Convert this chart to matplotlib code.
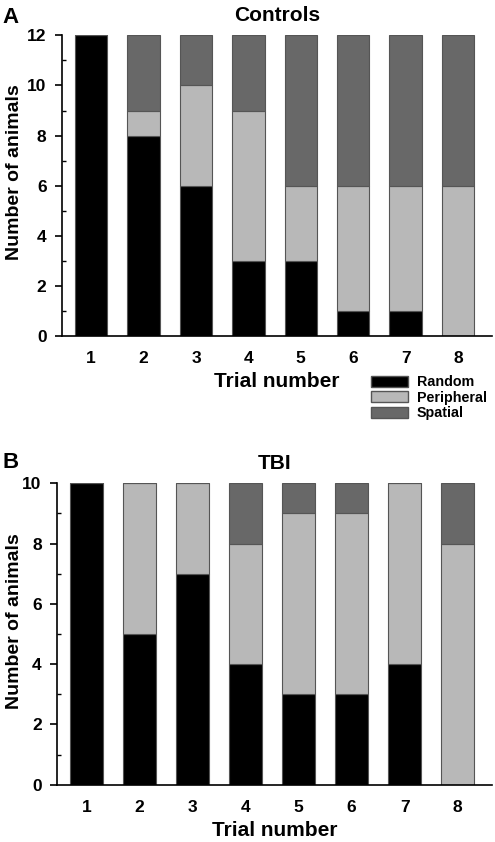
import numpy as np
import matplotlib
matplotlib.use('Agg')
import matplotlib.pyplot as plt
from matplotlib.patches import Patch

plt.rcParams['font.family'] = ['Liberation Sans', 'DejaVu Sans']
plt.rcParams['font.weight'] = 'bold'

trials = [1, 2, 3, 4, 5, 6, 7, 8]
strategies = ['Random', 'Peripheral', 'Spatial']
colors = ['#000000', '#b8b8b8', '#686868']

ctrl_random = [12, 8, 6, 3, 3, 1, 1, 0]
ctrl_peripheral = [0, 1, 4, 6, 3, 5, 5, 6]
ctrl_spatial = [0, 3, 2, 3, 6, 6, 6, 6]

tbi_random = [10, 5, 7, 4, 3, 3, 4, 0]
tbi_peripheral = [0, 5, 3, 4, 6, 6, 6, 8]
tbi_spatial = [0, 0, 0, 2, 1, 1, 0, 2]


def stacked(ax, series, ymax, title):
    bottom = np.zeros(len(trials))
    for vals, c in zip(series, colors):
        ax.bar(trials, vals, width=0.62, bottom=bottom, color=c,
               edgecolor='#555555', linewidth=0.8, zorder=2)
        bottom += np.array(vals)
    ax.set_ylim(0, ymax)
    ax.set_xlim(0.44, 8.65)
    ax.set_yticks(range(0, ymax + 1, 2))
    ax.set_yticks(range(1, ymax, 2), minor=True)
    ax.set_xticks(trials)
    ax.spines['top'].set_visible(False)
    ax.spines['right'].set_visible(False)
    ax.spines['left'].set_linewidth(1.2)
    ax.spines['bottom'].set_linewidth(1.2)
    ax.tick_params(axis='x', length=0, pad=11, labelsize=12.5)
    ax.tick_params(axis='y', which='major', length=5, width=1.2, pad=6, labelsize=12.5)
    ax.tick_params(axis='y', which='minor', length=3, width=1, direction='in')
    ax.set_xlabel('Trial number', fontsize=15, fontweight='bold', labelpad=4)
    ax.set_ylabel('Number of animals', fontsize=14, fontweight='bold')
    # put the y label a fixed distance from the figure edge
    ax.yaxis.set_label_coords(0.046, 0.5, transform=fig.transFigure)
    ax.set_title(title, fontsize=15, fontweight='bold', pad=10)


fig = plt.figure(figsize=(4.95, 8.42), dpi=100)
ax1 = fig.add_axes([0.125, 0.601, 0.869, 0.357])
ax2 = fig.add_axes([0.115, 0.068, 0.879, 0.358])

stacked(ax1, [ctrl_random, ctrl_peripheral, ctrl_spatial], 12, 'Controls')
stacked(ax2, [tbi_random, tbi_peripheral, tbi_spatial], 10, 'TBI')
# label y is in figure coords; the originals sit a little above axes centre
ax1.yaxis.label.set_y(0.601 + 0.357 / 2 + 0.016)
ax2.yaxis.label.set_y(0.068 + 0.358 / 2 + 0.015)

handles = [Patch(facecolor=c, edgecolor='#555555', label=s) for s, c in zip(strategies, colors)]
fig.legend(handles=handles, loc='upper left', bbox_to_anchor=(0.738, 0.561),
           frameon=False, fontsize=10.3, handlelength=2.6, handleheight=0.8,
           labelspacing=0.1, handletextpad=0.6, borderaxespad=0)

fig.text(0.005, 0.992, 'A', fontsize=16, fontweight='bold', va='top')
fig.text(0.005, 0.463, 'B', fontsize=16, fontweight='bold', va='top')

fig.savefig('out.png', dpi=100)
